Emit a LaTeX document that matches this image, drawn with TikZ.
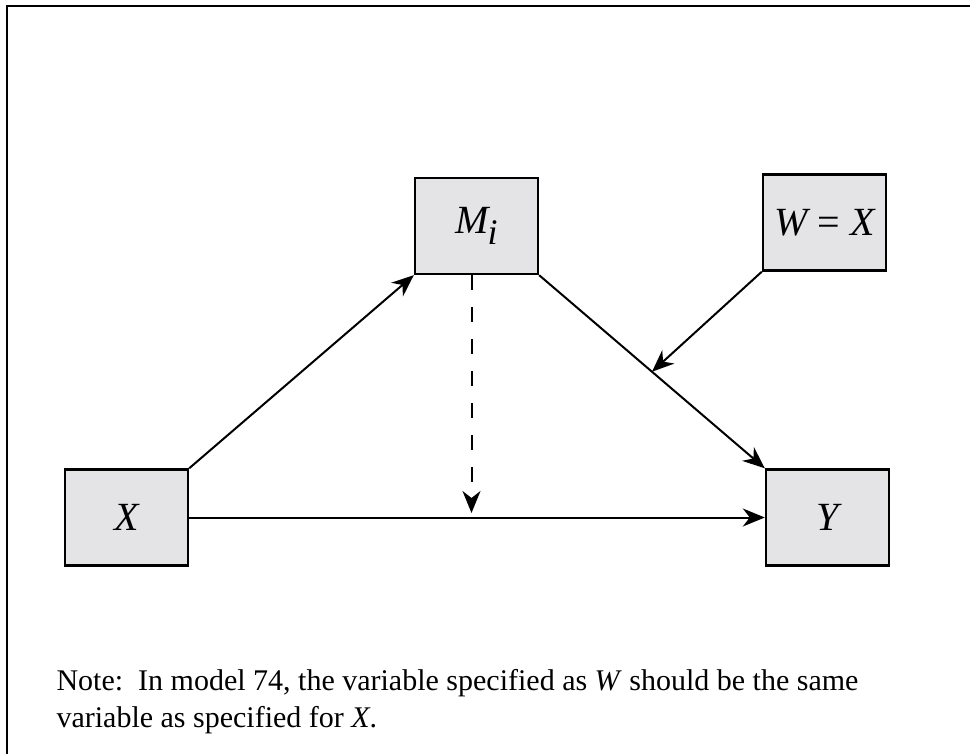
\documentclass[tikz,border=0pt]{standalone}
\usepackage{fontspec}
\setmainfont{Liberation Serif}
\usetikzlibrary{positioning,calc,arrows.meta}
\definecolor{boxgray}{RGB}{228,228,230}

\begin{document}
\begin{tikzpicture}[x=1pt,y=-1pt,
  var/.style={draw,fill=boxgray,line width=2.4pt,minimum width=123pt,minimum height=96pt,inner sep=0pt,font=\fontsize{40}{44}\selectfont\itshape},
  path/.style={line width=2pt,-{Stealth[length=22pt,width=18pt,inset=7pt]}}]
\useasboundingbox (0,0) rectangle (970,754);
\draw[line width=2.2pt] (7,760) -- (7,6) -- (975,6);

\node[var] (M) at (476.5,226) {M\kern-1pt\raisebox{-0.28em}{\fontsize{36}{36}\selectfont i}};
\node[var] (W) at (824.5,222.5) {W {\upshape =} X};
\node[var] (X) at (126.5,517.5) {X};
\node[var] (Y) at (827.5,517.5) {Y};

\coordinate (mid) at ($(M.south east)!0.5!(Y.north west)$);
\coordinate (dtop) at ([xshift=-5pt]M.south);
\coordinate (dend) at (471.5,513);

\draw[path] (X.north east) -- (M.south west);
\draw[path] (M.south east) -- (Y.north west);
\draw[path] (W.south west) -- (mid);
\draw[path] (X.east) -- (Y.west);
\draw[path,dash pattern=on 15pt off 17pt] (dtop) -- (dend);

\node[anchor=base west,align=left,font=\fontsize{30}{37}\selectfont] (note) at (53,727)
  {Note:\ \ In model 74, the variable specified as \textit{W} should be the same\\variable as specified for \textit{X}.};
\end{tikzpicture}
\end{document}
